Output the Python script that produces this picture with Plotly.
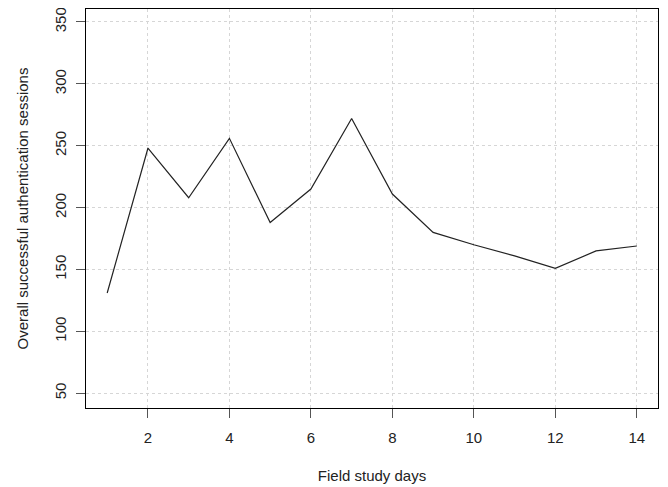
import plotly.graph_objects as go

days = list(range(1, 15))
sessions = [131, 248, 208, 256, 188, 215, 272, 211, 180, 170, 161, 151, 165, 169]
x_ticks = [2, 4, 6, 8, 10, 12, 14]
y_ticks = [50, 100, 150, 200, 250, 300, 350]

font = "Liberation Sans, Arial, sans-serif"
fig = go.Figure(go.Scatter(x=days, y=sessions, mode="lines",
                           line=dict(color="#222222", width=1.2)))

# page body has an 8px default margin; size the figure so it fits the window
fig.update_layout(
    width=660, height=479,
    margin=dict(l=78, r=10, t=1, b=79),
    plot_bgcolor="white", paper_bgcolor="white",
    showlegend=False,
    font=dict(family=font, size=15, color="#222222"),
)
fig.update_xaxes(
    range=[0.48, 14.52], tickvals=x_ticks, automargin=False,
    showline=True, mirror=True, linecolor="black", linewidth=1,
    ticks="outside", ticklen=9, tickcolor="#555555",
    showgrid=True, gridcolor="#d6d6d6", griddash="dot", gridwidth=1,
    zeroline=False, ticklabelstandoff=7, ticklabeloverflow="allow",
    title=dict(text="Field study days", standoff=25, font=dict(size=15)),
)
fig.update_yaxes(
    range=[38.1, 360.5], tickvals=y_ticks, tickangle=-90, automargin=False,
    showline=True, mirror=True, linecolor="black", linewidth=1,
    ticks="outside", ticklen=9, tickcolor="#555555",
    showgrid=True, gridcolor="#d6d6d6", griddash="dot", gridwidth=1,
    zeroline=False, ticklabelstandoff=4, ticklabeloverflow="allow",
    title=dict(text="Overall successful authentication sessions", standoff=19, font=dict(size=15)),
)
fig.write_html("out.html")
